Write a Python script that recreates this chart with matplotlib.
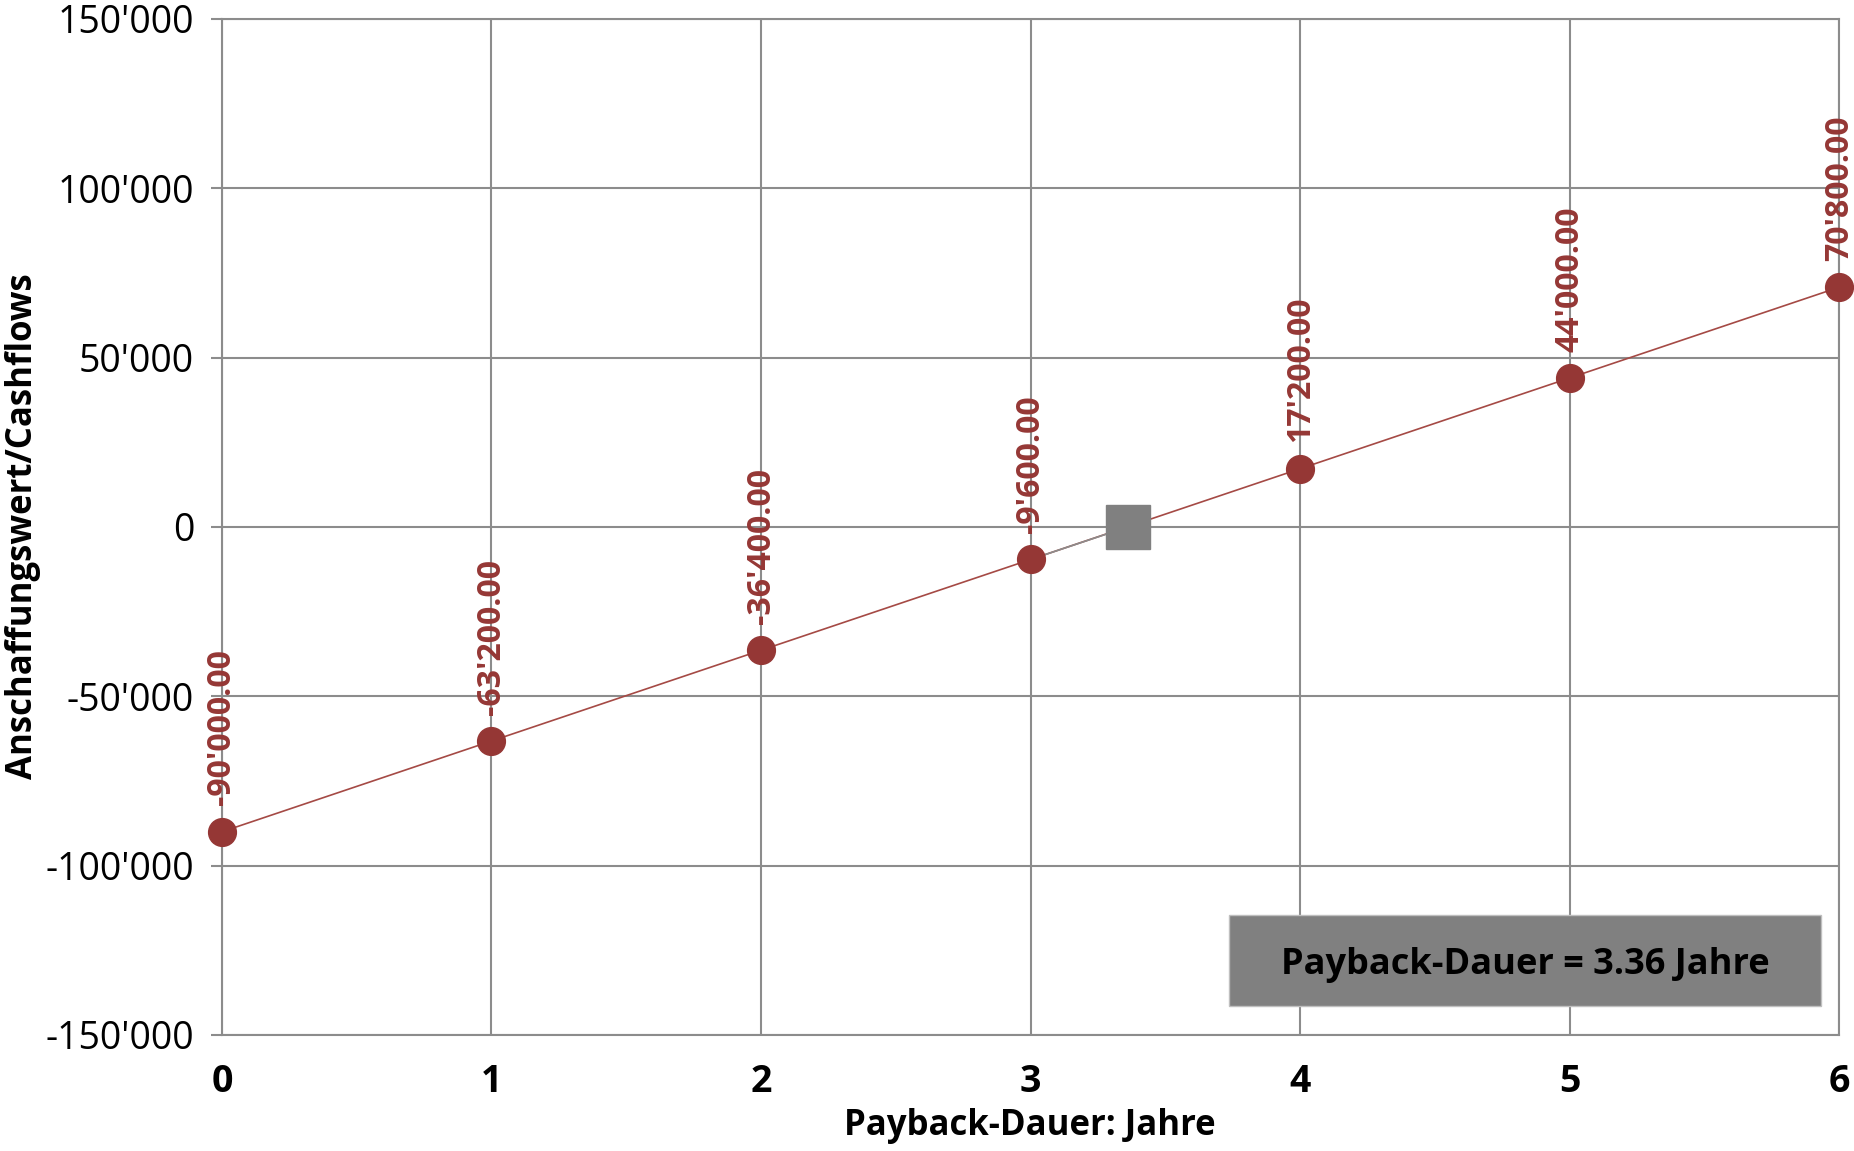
import matplotlib
matplotlib.use("Agg")
import matplotlib.pyplot as plt
from matplotlib.ticker import FuncFormatter
from matplotlib.patches import Rectangle

years = [0, 1, 2, 3, 4, 5, 6]
cumulative = [-90000, -63200, -36400, -9600, 17200, 44000, 70800]
payback_years = 3.36
payback_value = 0
y_ticks = [-150000, -100000, -50000, 0, 50000, 100000, 150000]
x_label = "Payback-Dauer: Jahre"
y_label = "Anschaffungswert/Cashflows"
box_text = "Payback-Dauer = 3.36 Jahre"

plt.rcParams['font.family'] = ['Open Sans', 'DejaVu Sans']

red = '#953735'
line_red = '#A54A45'
grid_c = '#8C8C8C'

fig = plt.figure(figsize=(18.54, 11.51), dpi=100)
ax = fig.add_axes([0.1197, 0.1008, 0.992 - 0.1197, 0.9835 - 0.1008])

ax.set_xlim(0, 6)
ax.set_ylim(-150000, 150000)
ax.set_xticks(years)
ax.set_yticks(y_ticks)
ax.grid(True, color=grid_c, linewidth=1.5)
ax.set_axisbelow(True)
for s in ax.spines.values():
    s.set_color(grid_c)
    s.set_linewidth(1.5)

ax.yaxis.set_major_formatter(FuncFormatter(lambda v, p: f"{int(v):,}".replace(",", "'")))
ax.tick_params(axis='y', length=8, color=grid_c, width=1.5, labelsize=27, pad=12)
ax.tick_params(axis='x', length=0, labelsize=27, pad=20)
for lab in ax.get_xticklabels():
    lab.set_fontweight('bold')

ax.plot(years, cumulative, color=line_red, linewidth=1.2, zorder=3)
ax.plot([years[3], payback_years], [cumulative[3], payback_value], color='#8C8C8C', linewidth=1.2, zorder=4)
ax.plot(years, cumulative, linestyle='none', marker='o', markersize=20,
        markerfacecolor=red, markeredgecolor=red, zorder=5, clip_on=False)
ax.plot([payback_years], [payback_value], linestyle='none', marker='s', markersize=32,
        markerfacecolor='#808080', markeredgecolor='#808080', zorder=5)

for x, y in zip(years, cumulative):
    txt = f"{y:,.2f}".replace(",", "'")
    ax.annotate(txt, (x, y), xytext=(0, 19), textcoords='offset points',
                rotation=90, ha='center', va='bottom', color=red,
                fontsize=23, fontweight='bold', zorder=6, annotation_clip=False)

ax.add_patch(Rectangle((0.623, 0.029), 0.989 - 0.623, 0.1176 - 0.029, transform=ax.transAxes,
                       facecolor='#808080', edgecolor='#BFBFBF', linewidth=1, zorder=6))
ax.text(0.806, 0.0733, box_text, transform=ax.transAxes, ha='center', va='center_baseline',
        fontsize=26, fontweight='bold', color='black', zorder=7)

fig.text(0.5556, 0.0215, x_label, ha='center', va='center', fontsize=25, fontweight='bold')
fig.text(0.0125, 0.543, y_label, ha='center', va='center', rotation=90, fontsize=25, fontweight='bold')

fig.savefig("out.png", dpi=100)
